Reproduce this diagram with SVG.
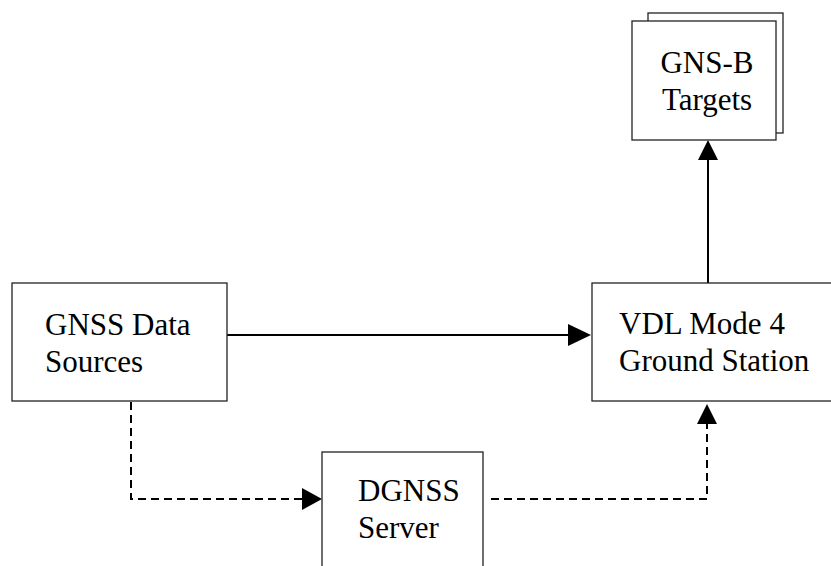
<svg xmlns="http://www.w3.org/2000/svg" width="831" height="566" viewBox="0 0 831 566">
<defs>
<style>
.box{fill:#fff;stroke:#222;stroke-width:1.3}
.t{font-family:'Liberation Serif','DejaVu Serif',serif;font-size:31px;fill:#000}
.ln{fill:none;stroke:#000;stroke-width:2}
.dash{stroke-dasharray:8,5}
</style>
</defs>
<rect width="831" height="566" fill="#fff"/>
<g id="connectors">
<line class="ln" x1="227" y1="335" x2="572" y2="335"/>
<path d="M568,324 L591,335 L568,346 z" fill="#000"/>
<line class="ln" x1="708" y1="283" x2="708" y2="158"/>
<path d="M698,160 L708,140 L718,160 z" fill="#000"/>
<polyline class="ln dash" points="131,402 131,499 304,499"/>
<path d="M302,488 L322,499 L302,510 z" fill="#000"/>
<polyline class="ln dash" points="491,499 707,499 707,423"/>
<path d="M697,424 L707,404 L717,424 z" fill="#000"/>
</g>
<g id="gnss">
<rect class="box" x="12" y="283" width="215" height="118"/>
<text class="t" x="45" y="335">GNSS Data</text>
<text class="t" x="45" y="372">Sources</text>
</g>
<g id="vdl">
<rect class="box" x="592" y="283" width="250" height="118"/>
<text class="t" x="619" y="334">VDL Mode 4</text>
<text class="t" x="619" y="371">Ground Station</text>
</g>
<g id="gnsb">
<rect class="box" x="648" y="13" width="135" height="120"/>
<rect class="box" x="632" y="21" width="144" height="119"/>
<text class="t" x="707" y="73" text-anchor="middle">GNS-B</text>
<text class="t" x="707" y="110" text-anchor="middle">Targets</text>
</g>
<g id="dgnss">
<rect class="box" x="322" y="452" width="161" height="130"/>
<text class="t" x="358" y="501">DGNSS</text>
<text class="t" x="358" y="538">Server</text>
</g>
</svg>
